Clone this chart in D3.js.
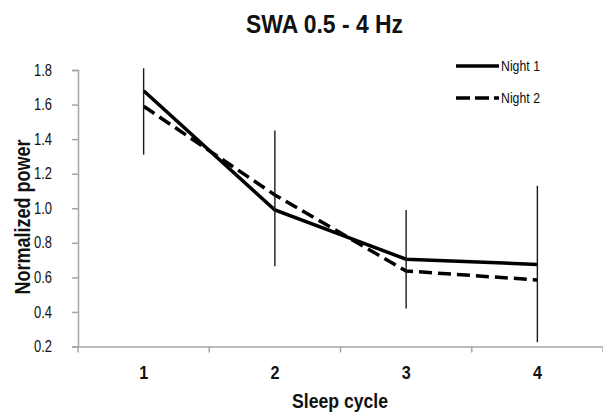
<!DOCTYPE html>
<html>
<head>
<meta charset="utf-8">
<script src="https://cdn.jsdelivr.net/npm/d3@7"></script>
<style>
  html, body { margin: 0; padding: 0; background: #fff; }
  svg { display: block; }
  text { font-family: "Liberation Sans Narrow", "Arial Narrow", "Liberation Sans", Arial, sans-serif; fill: #111; }
</style>
</head>
<body>
<svg id="chart" width="603" height="417"></svg>
<script>
// ---- data ----
const categories = [1, 2, 3, 4];
const night1 = [1.68, 0.99, 0.705, 0.675];
const night2 = [1.59, 1.077, 0.637, 0.585];
const errorTop = [1.81, 1.45, 0.99, 1.13];
const errorBottom = [1.31, 0.665, 0.42, 0.225];
const yTicks = [0.2, 0.4, 0.6, 0.8, 1.0, 1.2, 1.4, 1.6, 1.8];
const seriesNames = ["Night 1", "Night 2"];
const titleText = "SWA 0.5 - 4 Hz";
const xTitle = "Sleep cycle";
const yTitle = "Normalized power";

// ---- layout ----
const svg = d3.select("#chart");
const plotLeft = 78, plotRight = 603, plotTop = 70, plotBottom = 346.5;

const x = d3.scaleBand().domain(categories).range([plotLeft, plotRight]).padding(0);
const y = d3.scaleLinear().domain([0.2, 1.8]).range([plotBottom, plotTop]);
const cx = d => x(d) + x.bandwidth() / 2;

// axes
const axisColor = "#a6a6a6";
const yAxis = svg.append("g").attr("transform", `translate(${plotLeft},0)`)
  .call(d3.axisLeft(y).tickValues(yTicks).tickFormat(d3.format(".1f")).tickSizeOuter(0).tickSize(6).tickPadding(20));
yAxis.select(".domain").attr("stroke", axisColor).attr("stroke-width", 1.5);
yAxis.selectAll(".tick line").attr("stroke", axisColor).attr("stroke-width", 1.5);
yAxis.selectAll(".tick text").style("font-size", "16px").attr("fill", "#222")
  .attr("textLength", 18).attr("lengthAdjust", "spacingAndGlyphs");

const xAxis = svg.append("g").attr("transform", `translate(0,${plotBottom})`)
  .call(d3.axisBottom(x).tickSize(0).tickPadding(20));
xAxis.select(".domain").attr("stroke", axisColor).attr("stroke-width", 1.5);
xAxis.selectAll(".tick text").style("font-size", "18px").style("font-weight", "bold").attr("fill", "#111")
  .attr("textLength", 9).attr("lengthAdjust", "spacingAndGlyphs");
// category boundary ticks
const bounds = categories.map(c => x(c)).concat([plotRight]);
svg.append("g").selectAll("line").data(bounds).join("line")
  .attr("x1", d => d).attr("x2", d => d)
  .attr("y1", plotBottom).attr("y2", plotBottom + 6)
  .attr("stroke", axisColor).attr("stroke-width", 1.5);

// lines
const lineGen = d3.line().x((d, i) => cx(categories[i])).y(d => y(d));
svg.append("path").datum(night2).attr("d", lineGen)
  .attr("fill", "none").attr("stroke", "#000").attr("stroke-width", 3.5)
  .attr("stroke-dasharray", "13,6");
svg.append("path").datum(night1).attr("d", lineGen)
  .attr("fill", "none").attr("stroke", "#000").attr("stroke-width", 3.5);

// error bars
svg.append("g").selectAll("line").data(categories).join("line")
  .attr("x1", d => cx(d)).attr("x2", d => cx(d))
  .attr("y1", (d, i) => y(errorTop[i])).attr("y2", (d, i) => y(errorBottom[i]))
  .attr("stroke", "#1a1a1a").attr("stroke-width", 1.4);

// title
svg.append("text").attr("x", 324.5).attr("y", 33)
  .attr("text-anchor", "middle").style("font-size", "26px").style("font-weight", "bold")
  .attr("textLength", 157).attr("lengthAdjust", "spacingAndGlyphs")
  .text(titleText);

// axis titles
svg.append("text").attr("x", 340).attr("y", 408)
  .attr("text-anchor", "middle").style("font-size", "21px").style("font-weight", "bold")
  .attr("textLength", 96).attr("lengthAdjust", "spacingAndGlyphs")
  .text(xTitle);
svg.append("text").attr("transform", "translate(30,217) rotate(-90)")
  .attr("text-anchor", "middle").style("font-size", "22px").style("font-weight", "bold")
  .attr("textLength", 155).attr("lengthAdjust", "spacingAndGlyphs")
  .text(yTitle);

// legend
const legend = svg.append("g");
const legY = [66, 98];
legend.append("line").attr("x1", 456).attr("x2", 499).attr("y1", legY[0]).attr("y2", legY[0])
  .attr("stroke", "#000").attr("stroke-width", 3.5);
legend.append("line").attr("x1", 456).attr("x2", 499).attr("y1", legY[1]).attr("y2", legY[1])
  .attr("stroke", "#000").attr("stroke-width", 3.5).attr("stroke-dasharray", "14,5");
legend.selectAll("text").data(seriesNames).join("text")
  .attr("x", 501).attr("y", (d, i) => legY[i] + 5)
  .style("font-size", "15px").attr("fill", "#111")
  .attr("textLength", 39).attr("lengthAdjust", "spacingAndGlyphs")
  .text(d => d);
</script>
</body>
</html>
